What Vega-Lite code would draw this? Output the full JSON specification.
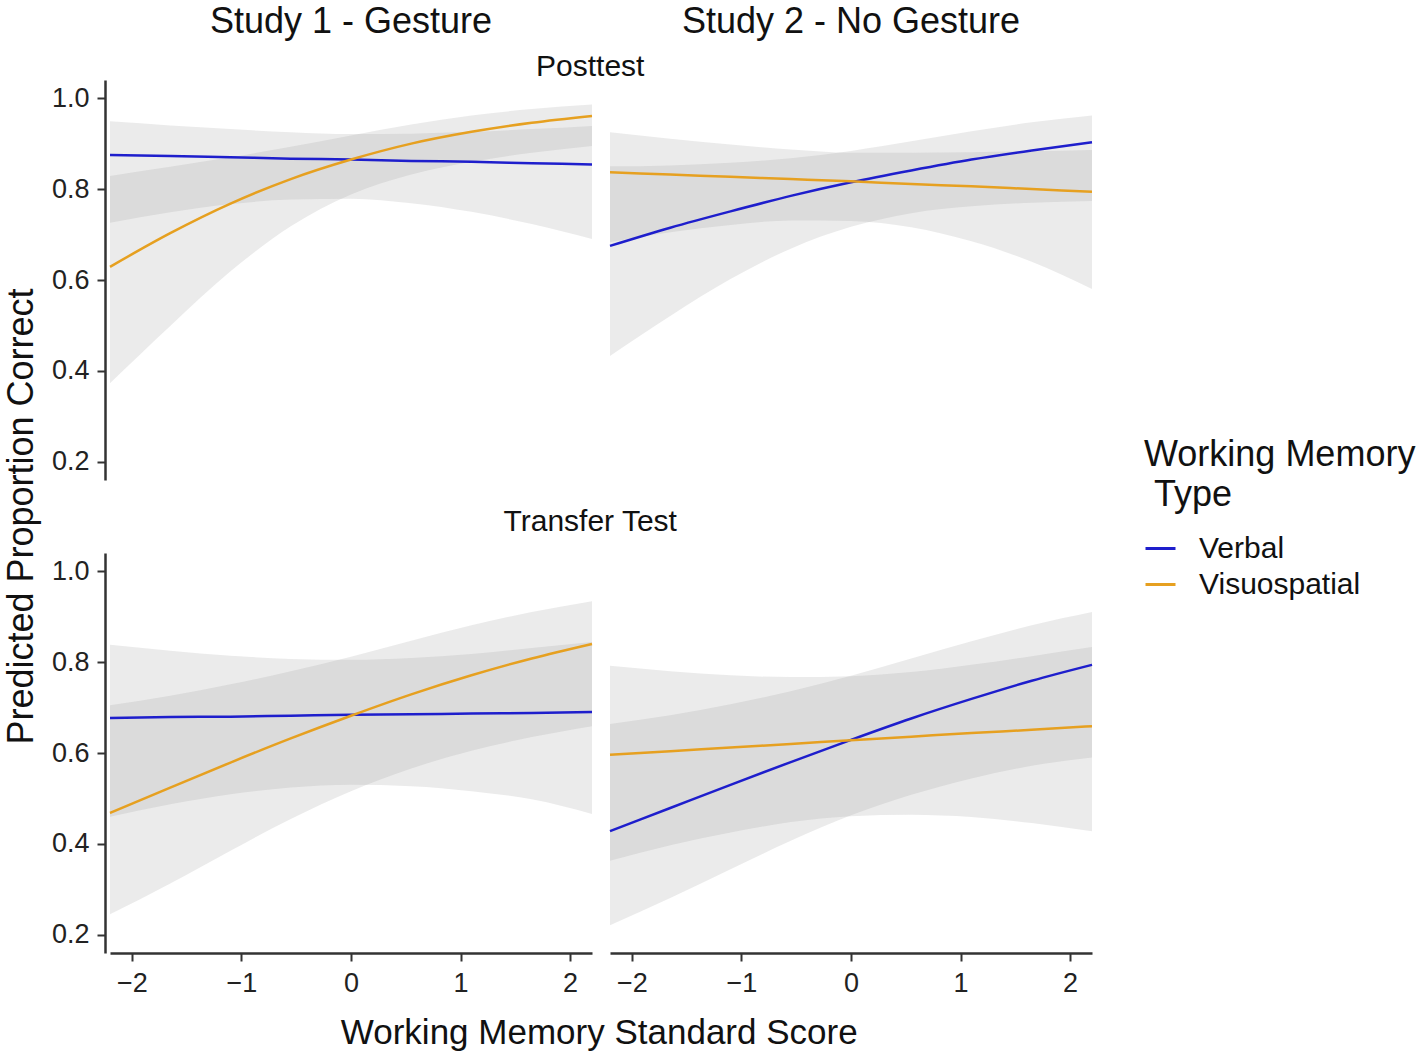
{
  "$schema": "https://vega.github.io/schema/vega-lite/v6.json",
  "padding": {"left": 4, "top": 4, "right": 5, "bottom": 5},
  "config": {
    "font": "Liberation Sans",
    "view": {"stroke": null},
    "axis": {"grid": false, "domainColor": "#333333", "domainWidth": 2.5, "tickColor": "#333333", "tickWidth": 2, "tickSize": 8, "labelFontSize": 27, "labelColor": "#222222", "labelPadding": 8},
    "title": {"fontWeight": "normal", "color": "#111111"},
    "header": {"labelColor": "#111111"},
    "legend": {"titleFontSize": 36, "titleFontWeight": "normal", "titleColor": "#111111", "titleLimit": 400, "titleLineHeight": 40, "titlePadding": 18, "labelFontSize": 30, "labelColor": "#111111", "labelLimit": 400, "labelOffset": 22, "symbolType": "stroke", "symbolSize": 900, "symbolStrokeWidth": 3, "rowPadding": 4}
  },
  "datasets": {
    "post": [
      {"study": "Study 1 - Gesture", "type": "Verbal", "x": -2.2, "y": 0.875, "lo": 0.726, "hi": 0.949},
      {"study": "Study 1 - Gesture", "type": "Verbal", "x": -1.65, "y": 0.873, "lo": 0.749, "hi": 0.940},
      {"study": "Study 1 - Gesture", "type": "Verbal", "x": -1.1, "y": 0.870, "lo": 0.767, "hi": 0.932},
      {"study": "Study 1 - Gesture", "type": "Verbal", "x": -0.55, "y": 0.867, "lo": 0.777, "hi": 0.925},
      {"study": "Study 1 - Gesture", "type": "Verbal", "x": 0, "y": 0.865, "lo": 0.779, "hi": 0.921},
      {"study": "Study 1 - Gesture", "type": "Verbal", "x": 0.55, "y": 0.862, "lo": 0.769, "hi": 0.922},
      {"study": "Study 1 - Gesture", "type": "Verbal", "x": 1.1, "y": 0.860, "lo": 0.750, "hi": 0.926},
      {"study": "Study 1 - Gesture", "type": "Verbal", "x": 1.65, "y": 0.857, "lo": 0.723, "hi": 0.932},
      {"study": "Study 1 - Gesture", "type": "Verbal", "x": 2.2, "y": 0.854, "lo": 0.690, "hi": 0.939},
      {"study": "Study 1 - Gesture", "type": "Visuospatial", "x": -2.2, "y": 0.629, "lo": 0.373, "hi": 0.829},
      {"study": "Study 1 - Gesture", "type": "Visuospatial", "x": -1.65, "y": 0.703, "lo": 0.499, "hi": 0.849},
      {"study": "Study 1 - Gesture", "type": "Visuospatial", "x": -1.1, "y": 0.768, "lo": 0.619, "hi": 0.870},
      {"study": "Study 1 - Gesture", "type": "Visuospatial", "x": -0.55, "y": 0.822, "lo": 0.718, "hi": 0.893},
      {"study": "Study 1 - Gesture", "type": "Visuospatial", "x": 0, "y": 0.865, "lo": 0.788, "hi": 0.918},
      {"study": "Study 1 - Gesture", "type": "Visuospatial", "x": 0.55, "y": 0.900, "lo": 0.832, "hi": 0.942},
      {"study": "Study 1 - Gesture", "type": "Visuospatial", "x": 1.1, "y": 0.926, "lo": 0.860, "hi": 0.962},
      {"study": "Study 1 - Gesture", "type": "Visuospatial", "x": 1.65, "y": 0.946, "lo": 0.880, "hi": 0.976},
      {"study": "Study 1 - Gesture", "type": "Visuospatial", "x": 2.2, "y": 0.961, "lo": 0.895, "hi": 0.986},
      {"study": "Study 2 - No Gesture", "type": "Verbal", "x": -2.2, "y": 0.675, "lo": 0.433, "hi": 0.850},
      {"study": "Study 2 - No Gesture", "type": "Verbal", "x": -1.65, "y": 0.715, "lo": 0.521, "hi": 0.852},
      {"study": "Study 2 - No Gesture", "type": "Verbal", "x": -1.1, "y": 0.751, "lo": 0.602, "hi": 0.858},
      {"study": "Study 2 - No Gesture", "type": "Verbal", "x": -0.55, "y": 0.785, "lo": 0.669, "hi": 0.868},
      {"study": "Study 2 - No Gesture", "type": "Verbal", "x": 0, "y": 0.815, "lo": 0.717, "hi": 0.884},
      {"study": "Study 2 - No Gesture", "type": "Verbal", "x": 0.55, "y": 0.841, "lo": 0.747, "hi": 0.905},
      {"study": "Study 2 - No Gesture", "type": "Verbal", "x": 1.1, "y": 0.865, "lo": 0.762, "hi": 0.927},
      {"study": "Study 2 - No Gesture", "type": "Verbal", "x": 1.65, "y": 0.885, "lo": 0.770, "hi": 0.947},
      {"study": "Study 2 - No Gesture", "type": "Verbal", "x": 2.2, "y": 0.903, "lo": 0.774, "hi": 0.962},
      {"study": "Study 2 - No Gesture", "type": "Visuospatial", "x": -2.2, "y": 0.837, "lo": 0.683, "hi": 0.925},
      {"study": "Study 2 - No Gesture", "type": "Visuospatial", "x": -1.65, "y": 0.832, "lo": 0.705, "hi": 0.911},
      {"study": "Study 2 - No Gesture", "type": "Visuospatial", "x": -1.1, "y": 0.827, "lo": 0.721, "hi": 0.898},
      {"study": "Study 2 - No Gesture", "type": "Visuospatial", "x": -0.55, "y": 0.822, "lo": 0.731, "hi": 0.887},
      {"study": "Study 2 - No Gesture", "type": "Visuospatial", "x": 0, "y": 0.817, "lo": 0.730, "hi": 0.880},
      {"study": "Study 2 - No Gesture", "type": "Visuospatial", "x": 0.55, "y": 0.811, "lo": 0.716, "hi": 0.880},
      {"study": "Study 2 - No Gesture", "type": "Visuospatial", "x": 1.1, "y": 0.806, "lo": 0.685, "hi": 0.881},
      {"study": "Study 2 - No Gesture", "type": "Visuospatial", "x": 1.65, "y": 0.800, "lo": 0.640, "hi": 0.883},
      {"study": "Study 2 - No Gesture", "type": "Visuospatial", "x": 2.2, "y": 0.794, "lo": 0.580, "hi": 0.886}
    ],
    "transfer": [
      {"study": "Study 1 - Gesture", "type": "Verbal", "x": -2.2, "y": 0.677, "lo": 0.460, "hi": 0.838},
      {"study": "Study 1 - Gesture", "type": "Verbal", "x": -1.65, "y": 0.679, "lo": 0.487, "hi": 0.825},
      {"study": "Study 1 - Gesture", "type": "Verbal", "x": -1.1, "y": 0.680, "lo": 0.509, "hi": 0.814},
      {"study": "Study 1 - Gesture", "type": "Verbal", "x": -0.55, "y": 0.682, "lo": 0.524, "hi": 0.807},
      {"study": "Study 1 - Gesture", "type": "Verbal", "x": 0, "y": 0.684, "lo": 0.530, "hi": 0.805},
      {"study": "Study 1 - Gesture", "type": "Verbal", "x": 0.55, "y": 0.685, "lo": 0.527, "hi": 0.809},
      {"study": "Study 1 - Gesture", "type": "Verbal", "x": 1.1, "y": 0.687, "lo": 0.516, "hi": 0.818},
      {"study": "Study 1 - Gesture", "type": "Verbal", "x": 1.65, "y": 0.688, "lo": 0.498, "hi": 0.831},
      {"study": "Study 1 - Gesture", "type": "Verbal", "x": 2.2, "y": 0.690, "lo": 0.466, "hi": 0.844},
      {"study": "Study 1 - Gesture", "type": "Visuospatial", "x": -2.2, "y": 0.468, "lo": 0.245, "hi": 0.705},
      {"study": "Study 1 - Gesture", "type": "Visuospatial", "x": -1.65, "y": 0.524, "lo": 0.313, "hi": 0.726},
      {"study": "Study 1 - Gesture", "type": "Visuospatial", "x": -1.1, "y": 0.579, "lo": 0.385, "hi": 0.751},
      {"study": "Study 1 - Gesture", "type": "Visuospatial", "x": -0.55, "y": 0.632, "lo": 0.455, "hi": 0.780},
      {"study": "Study 1 - Gesture", "type": "Visuospatial", "x": 0, "y": 0.682, "lo": 0.516, "hi": 0.812},
      {"study": "Study 1 - Gesture", "type": "Visuospatial", "x": 0.55, "y": 0.729, "lo": 0.566, "hi": 0.847},
      {"study": "Study 1 - Gesture", "type": "Visuospatial", "x": 1.1, "y": 0.771, "lo": 0.605, "hi": 0.881},
      {"study": "Study 1 - Gesture", "type": "Visuospatial", "x": 1.65, "y": 0.808, "lo": 0.635, "hi": 0.910},
      {"study": "Study 1 - Gesture", "type": "Visuospatial", "x": 2.2, "y": 0.840, "lo": 0.659, "hi": 0.934},
      {"study": "Study 2 - No Gesture", "type": "Verbal", "x": -2.2, "y": 0.428, "lo": 0.221, "hi": 0.664},
      {"study": "Study 2 - No Gesture", "type": "Verbal", "x": -1.65, "y": 0.479, "lo": 0.281, "hi": 0.683},
      {"study": "Study 2 - No Gesture", "type": "Verbal", "x": -1.1, "y": 0.530, "lo": 0.344, "hi": 0.707},
      {"study": "Study 2 - No Gesture", "type": "Verbal", "x": -0.55, "y": 0.580, "lo": 0.407, "hi": 0.736},
      {"study": "Study 2 - No Gesture", "type": "Verbal", "x": 0, "y": 0.629, "lo": 0.463, "hi": 0.770},
      {"study": "Study 2 - No Gesture", "type": "Verbal", "x": 0.55, "y": 0.676, "lo": 0.508, "hi": 0.808},
      {"study": "Study 2 - No Gesture", "type": "Verbal", "x": 1.1, "y": 0.719, "lo": 0.544, "hi": 0.846},
      {"study": "Study 2 - No Gesture", "type": "Verbal", "x": 1.65, "y": 0.759, "lo": 0.572, "hi": 0.881},
      {"study": "Study 2 - No Gesture", "type": "Verbal", "x": 2.2, "y": 0.794, "lo": 0.590, "hi": 0.910},
      {"study": "Study 2 - No Gesture", "type": "Visuospatial", "x": -2.2, "y": 0.596, "lo": 0.363, "hi": 0.792},
      {"study": "Study 2 - No Gesture", "type": "Visuospatial", "x": -1.65, "y": 0.604, "lo": 0.397, "hi": 0.780},
      {"study": "Study 2 - No Gesture", "type": "Visuospatial", "x": -1.1, "y": 0.612, "lo": 0.425, "hi": 0.771},
      {"study": "Study 2 - No Gesture", "type": "Visuospatial", "x": -0.55, "y": 0.620, "lo": 0.448, "hi": 0.767},
      {"study": "Study 2 - No Gesture", "type": "Visuospatial", "x": 0, "y": 0.628, "lo": 0.461, "hi": 0.769},
      {"study": "Study 2 - No Gesture", "type": "Visuospatial", "x": 0.55, "y": 0.636, "lo": 0.464, "hi": 0.778},
      {"study": "Study 2 - No Gesture", "type": "Visuospatial", "x": 1.1, "y": 0.644, "lo": 0.459, "hi": 0.794},
      {"study": "Study 2 - No Gesture", "type": "Visuospatial", "x": 1.65, "y": 0.651, "lo": 0.446, "hi": 0.813},
      {"study": "Study 2 - No Gesture", "type": "Visuospatial", "x": 2.2, "y": 0.659, "lo": 0.428, "hi": 0.833}
    ]
  },
  "title": {"text": "Predicted Proportion Correct", "orient": "left", "fontSize": 36, "anchor": "middle", "frame": "bounds", "offset": 10, "dx": 11},
  "vconcat": [
    {
      "title": {"text": "Working Memory Standard Score", "orient": "bottom", "fontSize": 35, "anchor": "middle", "frame": "bounds", "offset": 20, "dx": 25},
      "spacing": 27,
      "vconcat": [
        {
          "data": {"name": "post"},
          "title": {"text": "Posttest", "fontSize": 30, "anchor": "middle", "frame": "bounds", "offset": -78, "dx": 16},
          "facet": {"column": {"field": "study", "type": "nominal", "sort": ["Study 1 - Gesture", "Study 2 - No Gesture"], "header": {"title": null, "labelFontSize": 36, "labelPadding": 39, "labelColor": "#111111"}}},
          "spacing": {"column": 8},
          "spec": {
            "width": 482,
            "height": 400,
            "layer": [
              {
                "mark": {"type": "area", "color": "#999999", "opacity": 0.2, "interpolate": "monotone"},
                "encoding": {
                  "x": {"field": "x", "type": "quantitative", "scale": {"domain": [-2.2, 2.2], "nice": false, "zero": false}, "axis": null},
                  "y": {"field": "lo", "type": "quantitative", "scale": {"domain": [0.16, 1.04], "nice": false, "zero": false}, "axis": {"title": null, "values": [0.2, 0.4, 0.6, 0.8, 1.0], "format": ".1f"}},
                  "y2": {"field": "hi"},
                  "detail": {"field": "type", "type": "nominal"}
                }
              },
              {
                "mark": {"type": "line", "strokeWidth": 2.5, "interpolate": "monotone"},
                "encoding": {
                  "x": {"field": "x", "type": "quantitative", "axis": null},
                  "y": {"field": "y", "type": "quantitative"},
                  "color": {"field": "type", "type": "nominal", "scale": {"domain": ["Verbal", "Visuospatial"], "range": ["#1E1ECC", "#E6A020"]}, "legend": {"title": ["Working Memory", "\u200b\u00a0Type"], "orient": "none", "legendX": 1034, "legendY": 358}}
                }
              }
            ]
          }
        },
        {
          "data": {"name": "transfer"},
          "title": {"text": "Transfer Test", "fontSize": 30, "anchor": "middle", "frame": "bounds", "offset": 16, "dx": 16},
          "facet": {"column": {"field": "study", "type": "nominal", "sort": ["Study 1 - Gesture", "Study 2 - No Gesture"], "header": {"title": null, "labels": false}}},
          "spacing": {"column": 8},
          "spec": {
            "width": 482,
            "height": 400,
            "layer": [
              {
                "mark": {"type": "area", "color": "#999999", "opacity": 0.2, "interpolate": "monotone"},
                "encoding": {
                  "x": {"field": "x", "type": "quantitative", "scale": {"domain": [-2.2, 2.2], "nice": false, "zero": false}, "axis": {"title": null, "values": [-2, -1, 0, 1, 2], "format": "d", "labelPadding": 9}},
                  "y": {"field": "lo", "type": "quantitative", "scale": {"domain": [0.16, 1.04], "nice": false, "zero": false}, "axis": {"title": null, "values": [0.2, 0.4, 0.6, 0.8, 1.0], "format": ".1f"}},
                  "y2": {"field": "hi"},
                  "detail": {"field": "type", "type": "nominal"}
                }
              },
              {
                "mark": {"type": "line", "strokeWidth": 2.5, "interpolate": "monotone"},
                "encoding": {
                  "x": {"field": "x", "type": "quantitative"},
                  "y": {"field": "y", "type": "quantitative"},
                  "color": {"field": "type", "type": "nominal"}
                }
              }
            ]
          }
        }
      ]
    }
  ]
}
